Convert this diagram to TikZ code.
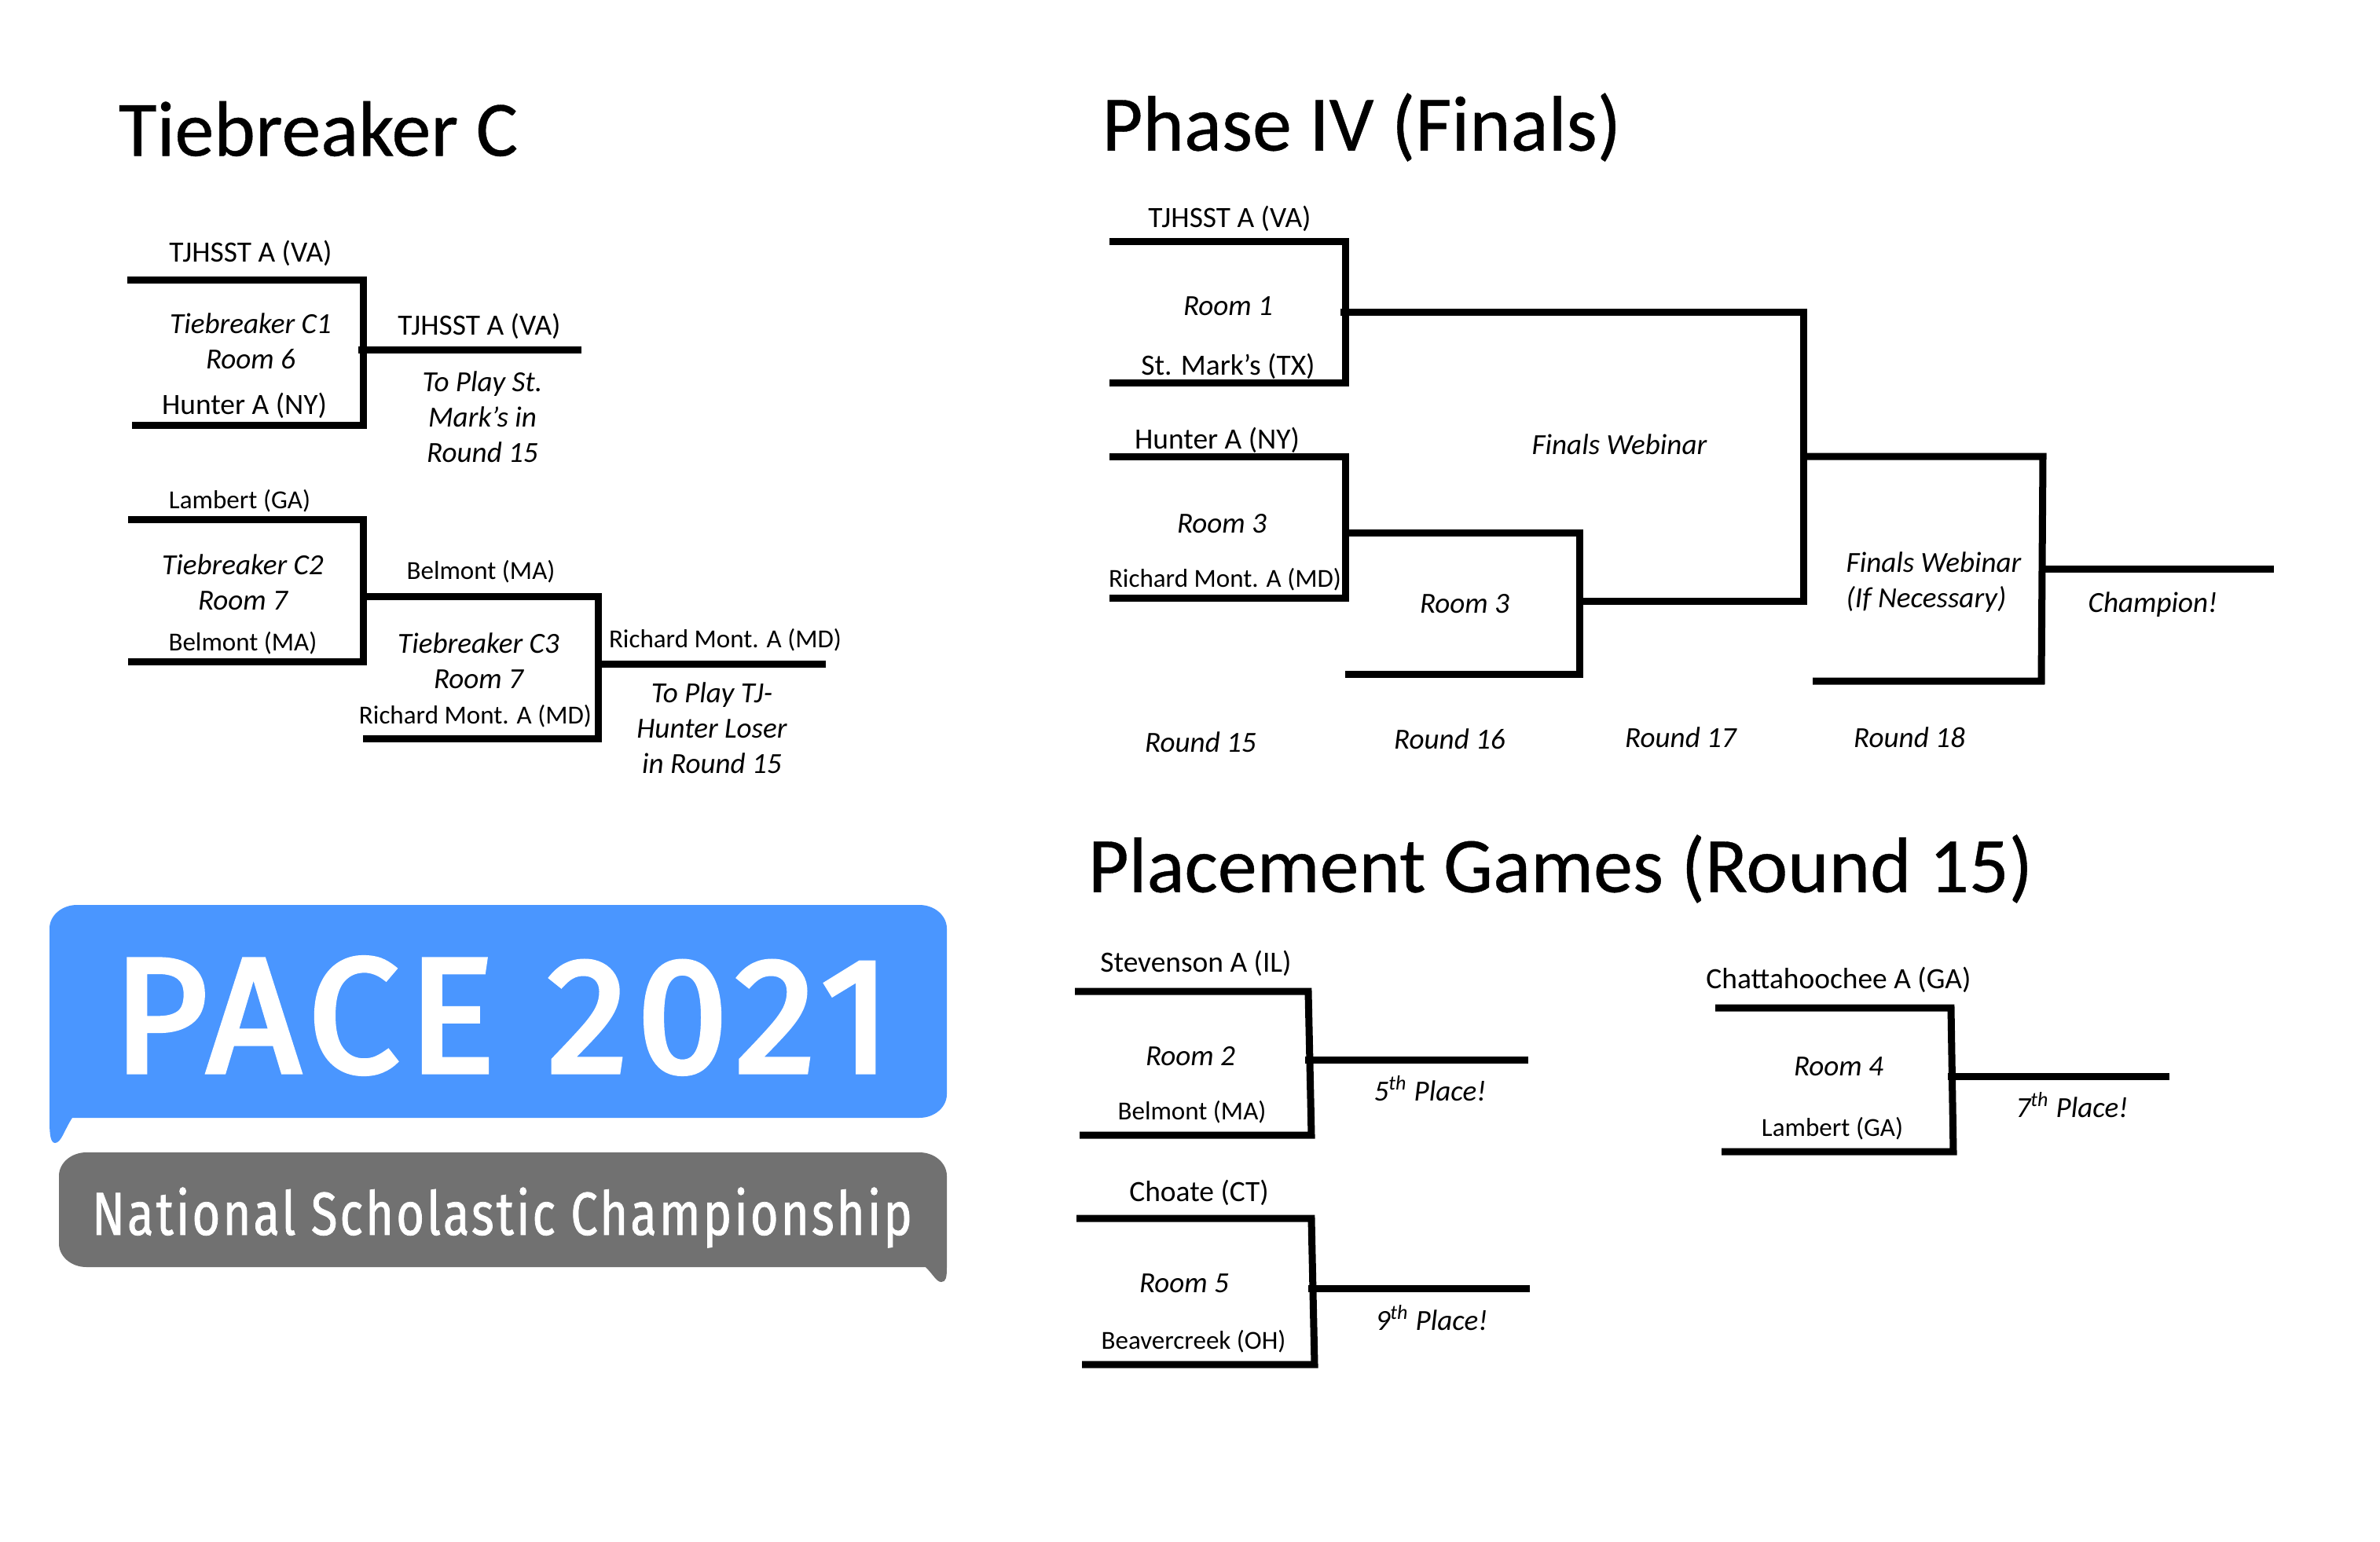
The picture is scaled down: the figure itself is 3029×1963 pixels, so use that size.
\documentclass[tikz,border=0pt]{standalone}
\usepackage{fontspec}
\setmainfont{Carlito}
\newfontfamily\pacefont[LetterSpace=5.5, FakeBold=3]{Fira Sans}
\newfontfamily\subfont[LetterSpace=4, FakeStretch=0.795, FakeBold=1]{Fira Sans}
\definecolor{paceblue}{HTML}{4A96FF}
\definecolor{pacegray}{HTML}{717171}
\tikzset{
	bracket/.style={line width=0.09cm, miter limit=4},
	team/.style={inner sep=0pt, yshift=-0.6pt, font=\fontsize{10.65}{12.8}\selectfont},
	teamsm/.style={inner sep=0pt, yshift=-0.6pt, font=\fontsize{9.4}{12.8}\selectfont},
	note/.style={inner sep=0pt, align=center, font=\fontsize{10.55}{12.8}\selectfont\itshape},
	heading/.style={inner sep=0pt, font=\fontsize{28.45}{34}\selectfont\addfontfeature{FakeBold=0.4}},
}

\begin{document}
\begin{tikzpicture}[x=0.01cm, y=-0.01cm]
	\useasboundingbox (0, 0) rectangle (3029, 1963);
	% Logo:
	\fill[paceblue] (98, 1152) -- (1170, 1152) arc[start angle=-90, end angle=0, x radius=35, y radius=30] -- (1205, 1393) arc[start angle=0, end angle=90, x radius=35, y radius=30] -- (92, 1423) .. controls (82, 1438) and (78, 1455) .. (70, 1455) .. controls (63, 1455) and (63, 1438) .. (63, 1423) -- (63, 1182) arc[start angle=180, end angle=270, x radius=35, y radius=30] -- cycle;
	\fill[pacegray] (110, 1467) -- (1170, 1467) arc[start angle=-90, end angle=0, x radius=35, y radius=30] -- (1205, 1613) .. controls (1205, 1626) and (1204, 1632) .. (1198, 1632) .. controls (1192, 1632) and (1188, 1623) .. (1178, 1613) -- (110, 1613) arc[start angle=90, end angle=180, x radius=35, y radius=30] -- (75, 1497) arc[start angle=180, end angle=270, x radius=35, y radius=30] -- cycle;
	\node[inner sep=0pt, text=white, font=\fontsize{59}{64}\selectfont\pacefont](pace) at (639, 1293){PACE 2021};
	\node[inner sep=0pt, text=white, font=\fontsize{22}{26}\selectfont\subfont](nsc) at (639, 1550){National Scholastic Championship};
	% Tiebreaker C:
	\node[heading](H1) at (405, 164){Tiebreaker C};
	\coordinate (C1a) at (162, 356);
	\coordinate (C1b) at (462, 356);
	\coordinate (C1c) at (462, 541);
	\coordinate (C1d) at (168, 541);
	\coordinate (C1e) at (456, 445);
	\coordinate (C1f) at (740, 445);
	\draw[bracket] (C1a) -- (C1b) -- (C1c) -- (C1d);
	\draw[bracket] (C1e) -- (C1f);
	\node[team](T1) at (319, 320){TJHSST A (VA)};
	\node[note](T2) at (319, 434){Tiebreaker C1\\Room 6};
	\node[team](T3) at (311, 514){Hunter A (NY)};
	\node[team](T4) at (610, 413){TJHSST A (VA)};
	\node[note](T5) at (614, 531){To Play St.\\Mark’s in\\Round 15};
	\coordinate (C2a) at (163, 661);
	\coordinate (C2b) at (462, 661);
	\coordinate (C2c) at (462, 842);
	\coordinate (C2d) at (163, 842);
	\draw[bracket] (C2a) -- (C2b) -- (C2c) -- (C2d);
	\node[teamsm](T6) at (305, 636){Lambert (GA)};
	\node[note](T7) at (309, 741){Tiebreaker C2\\Room 7};
	\node[teamsm](T8) at (309, 817){Belmont (MA)};
	\coordinate (C3a) at (462, 759);
	\coordinate (C3b) at (761, 759);
	\coordinate (C3c) at (761, 940);
	\coordinate (C3d) at (462, 940);
	\coordinate (C3e) at (761, 845);
	\coordinate (C3f) at (1051, 845);
	\draw[bracket] (C3a) -- (C3b) -- (C3c) -- (C3d);
	\draw[bracket] (C3e) -- (C3f);
	\node[teamsm](T9) at (612, 726){Belmont (MA)};
	\node[note](T10) at (609, 841){Tiebreaker C3\\Room 7};
	\node[teamsm](T11) at (605, 910){Richard Mont. A (MD)};
	\node[teamsm](T12) at (923, 813){Richard Mont. A (MD)};
	\node[note](T13) at (906, 927){To Play TJ-\\Hunter Loser\\in Round 15};
	% Phase IV (Finals):
	\node[heading](H2) at (1733, 162){Phase IV (Finals)};
	\coordinate (F1a) at (1412, 307);
	\coordinate (F1b) at (1712, 307);
	\coordinate (F1c) at (1712, 487);
	\coordinate (F1d) at (1412, 487);
	\coordinate (F1e) at (1706, 397);
	\coordinate (F1f) at (2295, 397);
	\coordinate (F1g) at (2295, 765);
	\coordinate (F1h) at (2011, 765);
	\draw[bracket] (F1a) -- (F1b) -- (F1c) -- (F1d);
	\draw[bracket] (F1e) -- (F1f) -- (F1g) -- (F1h);
	\coordinate (F2a) at (1412, 581);
	\coordinate (F2b) at (1712, 581);
	\coordinate (F2c) at (1712, 761);
	\coordinate (F2d) at (1412, 761);
	\draw[bracket] (F2a) -- (F2b) -- (F2c) -- (F2d);
	\coordinate (F3a) at (1712, 678);
	\coordinate (F3b) at (2010, 678);
	\coordinate (F3c) at (2010, 858);
	\coordinate (F3d) at (1712, 858);
	\draw[bracket] (F3a) -- (F3b) -- (F3c) -- (F3d);
	\coordinate (F4a) at (2298, 581);
	\coordinate (F4b) at (2600, 581);
	\coordinate (F4c) at (2598, 867);
	\coordinate (F4d) at (2307, 867);
	\coordinate (F4e) at (2600, 724);
	\coordinate (F4f) at (2894, 724);
	\draw[bracket] (F4a) -- (F4b) -- (F4c) -- (F4d);
	\draw[bracket] (F4e) -- (F4f);
	\node[team](N1) at (1565, 276){TJHSST A (VA)};
	\node[note](N2) at (1563, 390){Room 1};
	\node[team](N3) at (1563, 464){St. Mark’s (TX)};
	\node[team](N4) at (1549, 558){Hunter A (NY)};
	\node[note](N5) at (1555, 667){Room 3};
	\node[teamsm](N6) at (1559, 736){Richard Mont. A (MD)};
	\node[note](N7) at (2061, 566){Finals Webinar};
	\node[note](N8) at (1864, 769){Room 3};
	\node[note, anchor=west, align=left](N9) at (2349, 741){Finals Webinar\\(If Necessary)};
	\node[note](N10) at (2740, 770){Champion!};
	\node[note](N11) at (1528, 945){Round 15};
	\node[note](N12) at (1845, 941){Round 16};
	\node[note](N13) at (2139, 939){Round 17};
	\node[note](N14) at (2430, 939){Round 18};
	% Placement Games (Round 15):
	\node[heading](H3) at (1986, 1106){Placement Games (Round 15)};
	\coordinate (P1a) at (1368, 1262);
	\coordinate (P1b) at (1665, 1262);
	\coordinate (P1c) at (1669, 1445);
	\coordinate (P1d) at (1374, 1445);
	\coordinate (P1e) at (1661, 1349);
	\coordinate (P1f) at (1945, 1349);
	\draw[bracket] (P1a) -- (P1b) -- (P1c) -- (P1d);
	\draw[bracket] (P1e) -- (P1f);
	\node[team](P1) at (1522, 1224){Stevenson A (IL)};
	\node[note](P2) at (1515, 1345){Room 2};
	\node[teamsm](P3) at (1517, 1414){Belmont (MA)};
	\node[note](P4) at (1820, 1386){5\textsuperscript{th} Place!};
	\coordinate (P2a) at (1370, 1551);
	\coordinate (P2b) at (1669, 1551);
	\coordinate (P2c) at (1673, 1737);
	\coordinate (P2d) at (1377, 1737);
	\coordinate (P2e) at (1665, 1640);
	\coordinate (P2f) at (1947, 1640);
	\draw[bracket] (P2a) -- (P2b) -- (P2c) -- (P2d);
	\draw[bracket] (P2e) -- (P2f);
	\node[team](P5) at (1526, 1516){Choate (CT)};
	\node[note](P6) at (1507, 1634){Room 5};
	\node[teamsm](P7) at (1519, 1706){Beavercreek (OH)};
	\node[note](P8) at (1822, 1678){9\textsuperscript{th} Place!};
	\coordinate (P3a) at (2183, 1283);
	\coordinate (P3b) at (2483, 1283);
	\coordinate (P3c) at (2486, 1466);
	\coordinate (P3d) at (2191, 1466);
	\coordinate (P3e) at (2479, 1370);
	\coordinate (P3f) at (2761, 1370);
	\draw[bracket] (P3a) -- (P3b) -- (P3c) -- (P3d);
	\draw[bracket] (P3e) -- (P3f);
	\node[team](P9) at (2340, 1245){Chattahoochee A (GA)};
	\node[note](P10) at (2340, 1358){Room 4};
	\node[teamsm](P11) at (2332, 1435){Lambert (GA)};
	\node[note](P12) at (2637, 1407){7\textsuperscript{th} Place!};
\end{tikzpicture}
\end{document}
